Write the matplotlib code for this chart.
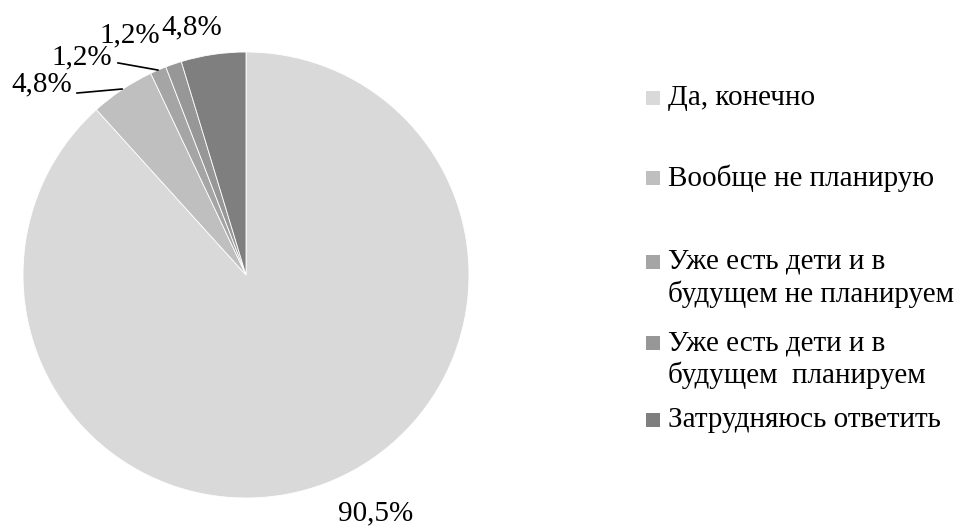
import matplotlib.pyplot as plt
from matplotlib.patches import Rectangle

plt.rcParams['font.family'] = ['Liberation Serif', 'DejaVu Serif']

# === Data ===
categories = ["Да, конечно", "Вообще не планирую",
              "Уже есть дети и в\nбудущем не планируем",
              "Уже есть дети и в\nбудущем  планируем",
              "Затрудняюсь ответить"]
values = [90.5, 4.8, 1.2, 1.2, 4.8]
pct_labels = ["90,5%", "4,8%", "1,2%", "1,2%", "4,8%"]
colors = ["#d9d9d9", "#bfbfbf", "#a5a5a5", "#979797", "#7f7f7f"]

W, H = 963, 526
fig = plt.figure(figsize=(W / 100, H / 100), dpi=100)

# pie centre and radius in pixels
cx, cy, r = 246, 275, 223
ax = fig.add_axes([(cx - r) / W, (H - cy - r) / H, 2 * r / W, 2 * r / H])
ax.pie(values, colors=colors, startangle=90, counterclock=False, radius=1,
       wedgeprops=dict(edgecolor="white", linewidth=0.6))
ax.set_xlim(-1, 1)
ax.set_ylim(-1, 1)
ax.set_aspect("equal")
ax.axis("off")

# === Percentage labels (pie data coords) ===
lab_pos = [(0.583, -1.067), (-0.917, 0.857), (-0.735, 0.978),
           (-0.520, 1.076), (-0.242, 1.112)]
leaders = {1: [(-0.758, 0.816), (-0.556, 0.834)],
           2: [(-0.574, 0.951), (-0.395, 0.919)]}
for i, (lab, (x, y)) in enumerate(zip(pct_labels, lab_pos)):
    ax.text(x, y, lab, ha="center", va="center", fontsize=21, clip_on=False)
    if i in leaders:
        (x0, y0), (x1, y1) = leaders[i]
        ax.plot([x0, x1], [y0, y1], color="black", lw=1.2, clip_on=False)

# === Legend (drawn by hand, Excel-style spacing) ===
row_y = [98, 178, 262, 343, 420]
line_h = 32
sq = 14
for cat, col, y in zip(categories, colors, row_y):
    fig.patches.append(Rectangle((646 / W, (H - y - sq / 2) / H), sq / W, sq / H,
                                 transform=fig.transFigure, facecolor=col,
                                 edgecolor="none"))
    for k, line in enumerate(cat.split("\n")):
        fig.text(668 / W, (H - y - k * line_h) / H, line, ha="left",
                 va="center", fontsize=21)

fig.savefig("out.png", dpi=100)
